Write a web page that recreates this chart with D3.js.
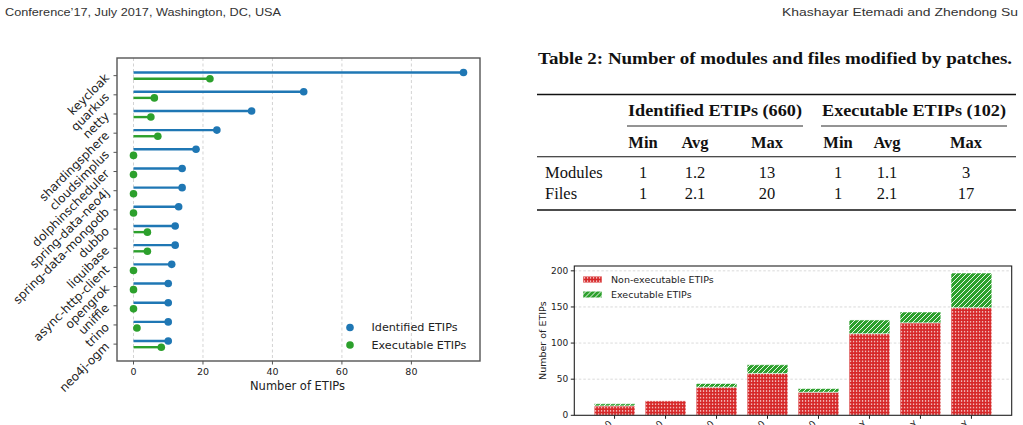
<!DOCTYPE html>
<html>
<head>
<meta charset="utf-8">
<script src="https://cdn.jsdelivr.net/npm/d3@7"></script>
<style>
  body { margin: 0; background: #fff; }
  svg { display: block; }
  .mpl { font-family: "DejaVu Sans", sans-serif; fill: #222; }
  .serif { font-family: "Liberation Serif", "DejaVu Serif", serif; fill: #111; }
  .head { font-family: "Liberation Sans", sans-serif; fill: #333; font-size: 11.5px; }
</style>
</head>
<body>
<script>
// lollipop data: ETIPs per project
var projects = ["keycloak", "quarkus", "netty", "shardingsphere", "cloudsimplus",
    "dolphinscheduler", "spring-data-neo4j", "spring-data-mongodb", "dubbo", "liquibase",
    "async-http-client", "opengrok", "uniffle", "trino", "neo4j-ogm"];
var identified = [95, 49, 34, 24, 18, 14, 14, 13, 12, 12, 11, 10, 10, 10, 10];
var executable = [22, 6, 5, 7, 0, 0, 0, 0, 4, 4, 0, 0, 0, 1, 8];
var lolliTicks = [0, 20, 40, 60, 80];

// stacked bars
var barLabels = ["0-10", "10-30", "30-60", "60-90", "90-180", "0.5-1Y", "1-2Y", ">2Y"];
var nonExec = [13, 20, 39, 58, 32, 113, 128, 149];
var execBar = [3, 0, 5, 12, 5, 19, 15, 48];
var barTicks = [0, 50, 100, 150, 200];

// table 2
var groups = ["Identified ETIPs (660)", "Executable ETIPs (102)"];
var colNames = ["Min", "Avg", "Max", "Min", "Avg", "Max"];
var rowNames = ["Modules", "Files"];
var rowValues = [["1", "1.2", "13", "1", "1.1", "3"], ["1", "2.1", "20", "1", "2.1", "17"]];

var blue = "#1f77b4", green = "#2ca02c", red = "#d62728";

var svg = d3.select("body").append("svg")
    .attr("width", 1023)
    .attr("height", 425);

// running head
svg.append("text").attr("class", "head")
    .attr("x", 5).attr("y", 16)
    .attr("textLength", 276).attr("lengthAdjust", "spacingAndGlyphs")
    .text("Conference’17, July 2017, Washington, DC, USA");
svg.append("text").attr("class", "head")
    .attr("x", 1018).attr("y", 16).style("text-anchor", "end")
    .attr("textLength", 236).attr("lengthAdjust", "spacingAndGlyphs")
    .text("Khashayar Etemadi and Zhendong Su");

// ---------- lollipop chart ----------
var L = { left: 117, right: 480, top: 58, bottom: 361 };
var x = d3.scaleLinear().domain([-4.75, 99.75]).range([L.left, L.right]);
var y = d3.scaleLinear().domain([-0.92, 14.88]).range([L.top, L.bottom]);
var g1 = svg.append("g").attr("class", "mpl");

g1.selectAll(".vgrid").data(lolliTicks).enter().append("line")
    .attr("x1", function (d) { return x(d); })
    .attr("x2", function (d) { return x(d); })
    .attr("y1", L.top).attr("y2", L.bottom)
    .attr("stroke", "#c8c8c8").attr("stroke-width", 0.8)
    .attr("stroke-dasharray", "3,2.5");

var off = 0.16;
g1.selectAll(".lb").data(identified).enter().append("line")
    .attr("x1", x(0)).attr("x2", function (d) { return x(d); })
    .attr("y1", function (d, i) { return y(i - off); })
    .attr("y2", function (d, i) { return y(i - off); })
    .attr("stroke", blue).attr("stroke-width", 2.4);
g1.selectAll(".lg").data(executable).enter().append("line")
    .attr("x1", x(0)).attr("x2", function (d) { return x(d); })
    .attr("y1", function (d, i) { return y(i + off); })
    .attr("y2", function (d, i) { return y(i + off); })
    .attr("stroke", green).attr("stroke-width", 2.4);
g1.selectAll(".db").data(identified).enter().append("circle")
    .attr("cx", function (d) { return x(d); })
    .attr("cy", function (d, i) { return y(i - off); })
    .attr("r", 3.8).attr("fill", blue);
g1.selectAll(".dg").data(executable).enter().append("circle")
    .attr("cx", function (d) { return x(d); })
    .attr("cy", function (d, i) { return y(i + off); })
    .attr("r", 3.8).attr("fill", green);

g1.append("rect")
    .attr("x", L.left).attr("y", L.top)
    .attr("width", L.right - L.left).attr("height", L.bottom - L.top)
    .attr("fill", "none").attr("stroke", "#555").attr("stroke-width", 1.4);

// x ticks
var xt = g1.selectAll(".xt").data(lolliTicks).enter().append("g")
    .attr("transform", function (d) { return "translate(" + x(d) + "," + L.bottom + ")"; });
xt.append("line").attr("y2", 3.5).attr("stroke", "#555");
xt.append("text").attr("y", 14).style("text-anchor", "middle")
    .style("font-size", "9.5px").text(function (d) { return d; });
g1.append("text")
    .attr("x", (L.left + L.right) / 2 - 1).attr("y", 390)
    .style("text-anchor", "middle").style("font-size", "11.5px")
    .text("Number of ETIPs");

// y ticks (rotated project names)
var yt = g1.selectAll(".yt").data(projects).enter().append("g")
    .attr("transform", function (d, i) { return "translate(" + L.left + "," + y(i) + ")"; });
yt.append("line").attr("x2", -3.5).attr("stroke", "#555");
yt.append("text")
    .attr("transform", "translate(-7,3) rotate(-45)")
    .style("text-anchor", "end")
    .style("font-size", "12px")
    .text(function (d) { return d; });

// legend
var leg1 = g1.append("g").selectAll("g")
    .data([["Identified ETIPs", blue], ["Executable ETIPs", green]])
    .enter().append("g")
    .attr("transform", function (d, i) { return "translate(350," + (327.5 + i * 17.5) + ")"; });
leg1.append("circle").attr("r", 3.8).attr("fill", function (d) { return d[1]; });
leg1.append("text").attr("x", 21.5).attr("dy", "0.35em")
    .style("font-size", "11.2px").text(function (d) { return d[0]; });

// ---------- table 2 ----------
var t = svg.append("g").attr("class", "serif");
t.append("text").attr("x", 538).attr("y", 64)
    .style("font-weight", "bold").style("font-size", "16.5px")
    .attr("textLength", 474).attr("lengthAdjust", "spacingAndGlyphs")
    .text("Table 2: Number of modules and files modified by patches.");

var ruleX = [537, 1016];
[[94.5, 1.7], [156.7, 1.1], [210, 1.7]].forEach(function (r) {
    t.append("line").attr("x1", ruleX[0]).attr("x2", ruleX[1])
        .attr("y1", r[0]).attr("y2", r[0])
        .attr("stroke", "#111").attr("stroke-width", r[1]);
});
var groupSpan = [[627, 803], [821, 1007]];
groups.forEach(function (gname, i) {
    t.append("text").attr("x", (groupSpan[i][0] + groupSpan[i][1]) / 2).attr("y", 116)
        .style("text-anchor", "middle").style("font-weight", "bold").style("font-size", "16.5px")
        .attr("textLength", groupSpan[i][1] - groupSpan[i][0] - 2).attr("lengthAdjust", "spacingAndGlyphs")
        .text(gname);
    t.append("line").attr("x1", groupSpan[i][0]).attr("x2", groupSpan[i][1])
        .attr("y1", 126).attr("y2", 126).attr("stroke", "#111").attr("stroke-width", 0.9);
});
var colX = [643, 695, 767, 838, 887, 966];
colNames.forEach(function (c, i) {
    t.append("text").attr("x", colX[i]).attr("y", 147.5)
        .style("text-anchor", "middle").style("font-weight", "bold").style("font-size", "16.5px")
        .text(c);
});
rowNames.forEach(function (rn, r) {
    var yy = 178 + r * 20.5;
    t.append("text").attr("x", 545).attr("y", yy).style("font-size", "16.5px").text(rn);
    rowValues[r].forEach(function (v, i) {
        t.append("text").attr("x", colX[i]).attr("y", yy)
            .style("text-anchor", "middle").style("font-size", "16.5px").text(v);
    });
});

// ---------- stacked bar chart ----------
var B = { left: 574.3, right: 1011.7, top: 266, bottom: 415.3 };
var bx = d3.scaleLinear().domain([-0.79, 7.79]).range([B.left, B.right]);
var by = d3.scaleLinear().domain([0, 206.7]).range([B.bottom, B.top]);
var g2 = svg.append("g").attr("class", "mpl");

var defs = svg.append("defs");
var pd = defs.append("pattern").attr("id", "dots")
    .attr("patternUnits", "userSpaceOnUse").attr("width", 3).attr("height", 3.3);
pd.append("rect").attr("width", 3).attr("height", 3.3).attr("fill", red);
pd.append("rect").attr("x", 0.9).attr("y", 1.1).attr("width", 1.3).attr("height", 1.1).attr("fill", "#fff");
var ph = defs.append("pattern").attr("id", "hatch")
    .attr("patternUnits", "userSpaceOnUse").attr("width", 5).attr("height", 5);
ph.append("rect").attr("width", 5).attr("height", 5).attr("fill", green);
ph.append("path").attr("d", "M0,5 L5,0 M-1,1 L1,-1 M4,6 L6,4")
    .attr("stroke", "#fff").attr("stroke-width", 0.9);

g2.selectAll(".hgrid").data(barTicks.slice(1)).enter().append("line")
    .attr("x1", B.left).attr("x2", B.right)
    .attr("y1", function (d) { return by(d); }).attr("y2", function (d) { return by(d); })
    .attr("stroke", "#d0d0d0").attr("stroke-width", 0.8).attr("stroke-dasharray", "2.5,2");

var bw = 0.8;
g2.selectAll(".rb").data(nonExec).enter().append("rect")
    .attr("x", function (d, i) { return bx(i - bw / 2); })
    .attr("width", bx(bw) - bx(0))
    .attr("y", function (d) { return by(d); })
    .attr("height", function (d) { return by(0) - by(d); })
    .attr("fill", "url(#dots)")
    .attr("stroke", "#fff").attr("stroke-opacity", 0.55).attr("stroke-width", 1);

var stackTop = execBar.map(function (d, i) { return { v: d, i: i }; })
    .filter(function (d) { return d.v > 0; });
g2.selectAll(".gb").data(stackTop).enter().append("rect")
    .attr("x", function (d) { return bx(d.i - bw / 2); })
    .attr("width", bx(bw) - bx(0))
    .attr("y", function (d) { return by(nonExec[d.i] + d.v); })
    .attr("height", function (d) { return by(nonExec[d.i]) - by(nonExec[d.i] + d.v); })
    .attr("fill", "url(#hatch)")
    .attr("stroke", "#fff").attr("stroke-opacity", 0.55).attr("stroke-width", 1);

g2.append("rect")
    .attr("x", B.left).attr("y", B.top)
    .attr("width", B.right - B.left).attr("height", B.bottom - B.top)
    .attr("fill", "none").attr("stroke", "#222").attr("stroke-width", 1.1);

var byt = g2.selectAll(".byt").data(barTicks).enter().append("g")
    .attr("transform", function (d) { return "translate(" + B.left + "," + by(d) + ")"; });
byt.append("line").attr("x2", -3.5).attr("stroke", "#222");
byt.append("text").attr("x", -6).attr("dy", "0.35em").style("text-anchor", "end")
    .style("font-size", "9px").text(function (d) { return d; });
g2.append("text")
    .attr("transform", "translate(546," + ((B.top + B.bottom) / 2) + ") rotate(-90)")
    .style("text-anchor", "middle").style("font-size", "9.5px")
    .text("Number of ETIPs");

// x labels are clipped by the page edge in the original too
var bxt = g2.selectAll(".bxt").data(barLabels).enter().append("g")
    .attr("transform", function (d, i) { return "translate(" + bx(i) + "," + B.bottom + ")"; });
bxt.append("line").attr("y2", 3.5).attr("stroke", "#222");
bxt.append("text").attr("transform", "translate(-2,9) rotate(-45)")
    .style("text-anchor", "end").style("font-size", "9px")
    .text(function (d) { return d; });

var leg2 = g2.append("g").selectAll("g")
    .data([["Non-executable ETIPs", "url(#dots)"], ["Executable ETIPs", "url(#hatch)"]])
    .enter().append("g")
    .attr("transform", function (d, i) { return "translate(583," + (279.5 + i * 15) + ")"; });
leg2.append("rect").attr("y", -3.3).attr("width", 19).attr("height", 6.6)
    .attr("fill", function (d) { return d[1]; })
    .attr("stroke", "#fff").attr("stroke-opacity", 0.55);
leg2.append("text").attr("x", 28).attr("dy", "0.35em")
    .style("font-size", "9.5px").text(function (d) { return d[0]; });
</script>
</body>
</html>
